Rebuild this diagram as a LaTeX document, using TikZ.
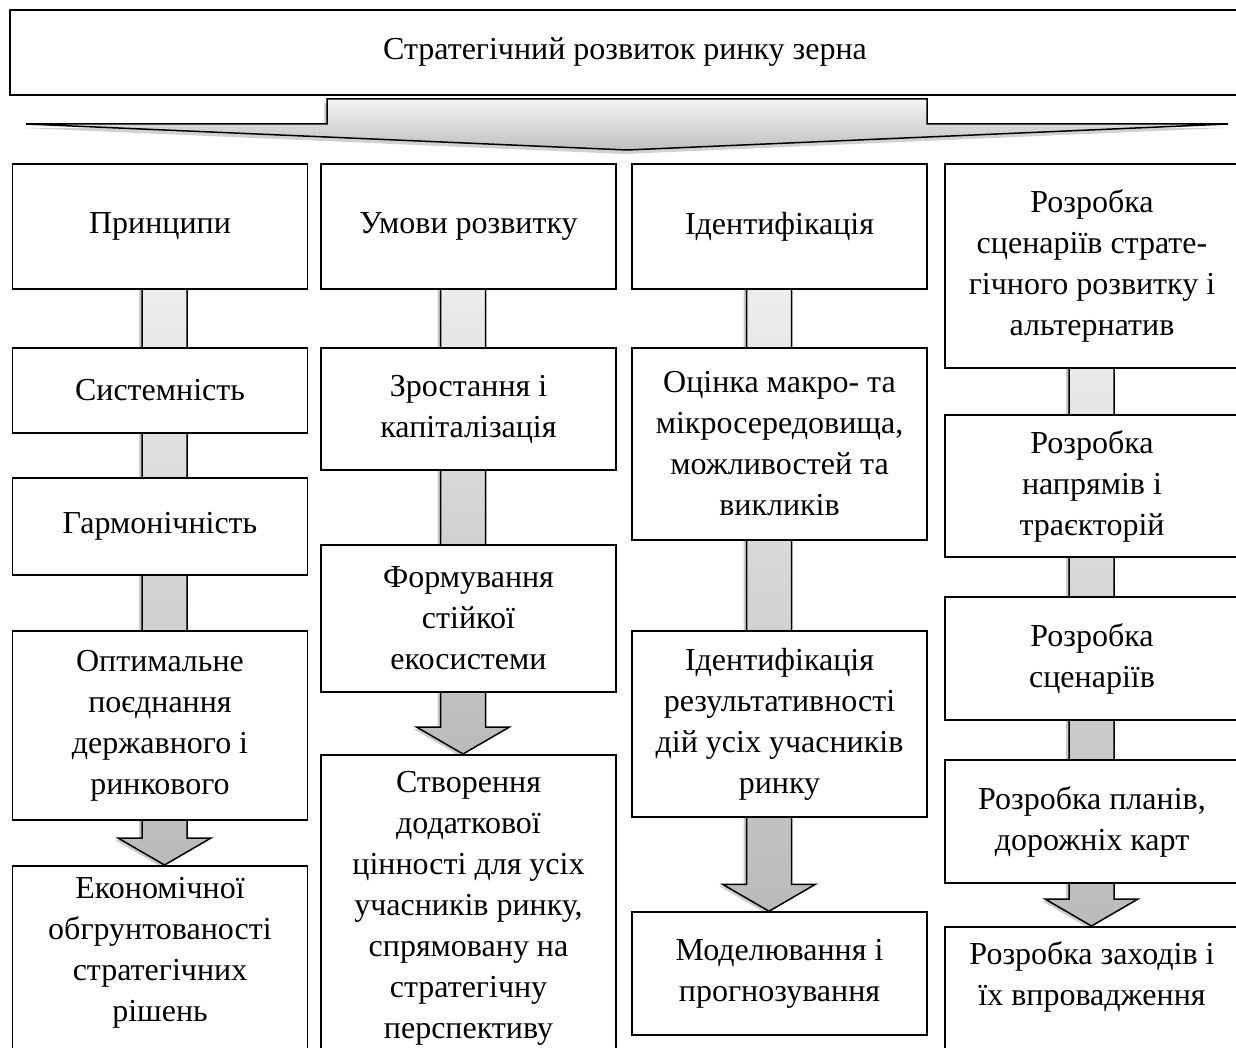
\documentclass[tikz,border=0pt]{standalone}
\usepackage{fontspec}
\setmainfont{Liberation Serif}
\usetikzlibrary{shadows,calc,backgrounds}

\newcommand{\colarrow}[2]{
  \path [colarrow] let \p1=(#1), \p2=(#2) in
    (\x1-22.5pt,\y1) -- (\x1+22.5pt,\y1) -- (\x1+22.5pt,\y2+27pt) -- (\x1+46.5pt,\y2+27pt)
    -- (\x1,\y2) -- (\x1-46.5pt,\y2+27pt) -- (\x1-22.5pt,\y2+27pt) -- cycle;
}

\begin{document}
\begin{tikzpicture}[x=1pt,y=-1pt,
    box/.style={draw,line width=1.5pt,fill=white,align=center,inner sep=4pt,
      font={\fontsize{32}{41}\selectfont}},
    colbox/.style={box,minimum width=295pt},
    cutbox/.style={colbox,anchor=north,inner ysep=12pt,text depth=70pt},
    colarrow/.style={draw,line width=1.5pt,top color=black!5,bottom color=black!27,
      drop shadow={shadow xshift=-3pt,shadow yshift=-2pt,fill=black!45,opacity=.45}},
    bigarrow/.style={draw,line width=1.5pt,top color=black!4,bottom color=black!25,
      drop shadow={shadow xshift=-3pt,shadow yshift=-4pt,fill=black!45,opacity=.4}}]
  \useasboundingbox (0,0) rectangle (1236,1048);

  \node [box,minimum width=1230pt,minimum height=85pt] (t) at (625,52.5) {Стратегічний розвиток ринку зерна};

  \draw [bigarrow] (26,124) -- (327,124) -- (327,99) -- (927,99) -- (927,124) -- (1228,124) -- (627,150) -- cycle;

  % first column
  \node [colbox,minimum height=125pt] (a1) at (160,226.5) {Принципи};
  \node [colbox,minimum height=85pt] (a2) at (160,390.5) {Системність};
  \node [colbox,minimum height=97pt] (a3) at (160,526.5) {Гармонічність};
  \node [colbox,minimum height=189pt] (a4) at (160,725.5) {Оптимальне\\поєднання\\державного і\\ринкового};
  \node [cutbox] (a5) at (160,865) {Економічної\\обгрунтованості\\стратегічних\\рішень};

  % second column
  \node [colbox,minimum height=125pt] (b1) at (468.5,226.5) {Умови розвитку};
  \node [colbox,minimum height=122pt] (b2) at (468.5,409) {Зростання і\\капіталізація};
  \node [colbox,minimum height=147pt] (b3) at (468.5,618.5) {Формування\\стійкої\\екосистеми};
  \node [cutbox,inner ysep=17pt] (b4) at (468.5,754) {Створення\\додаткової\\цінності для усіх\\учасників ринку,\\спрямовану на\\стратегічну\\перспективу};

  % third column
  \node [colbox,minimum height=125pt] (c1) at (779.5,226.5) {Ідентифікація};
  \node [colbox,minimum height=192pt] (c2) at (779.5,444) {Оцінка макро- та\\мікросередовища,\\можливостей та\\викликів};
  \node [colbox,minimum height=186pt] (c3) at (779.5,724) {Ідентифікація\\результативності\\дій усіх учасників\\ринку};
  \node [colbox,minimum height=123pt] (c4) at (779.5,973.5) {Моделювання і\\прогнозування};

  % fourth column
  \node [colbox,minimum width=294pt,minimum height=204pt] (d1) at (1092,266) {Розробка\\сценаріїв страте-\\гічного розвитку і\\альтернатив};
  \node [colbox,minimum width=294pt,minimum height=142pt] (d2) at (1092,486) {Розробка\\напрямів і\\траєкторій};
  \node [colbox,minimum width=294pt,minimum height=123pt] (d3) at (1092,658.5) {Розробка\\сценаріїв};
  \node [colbox,minimum width=294pt,minimum height=123pt] (d4) at (1092,821.5) {Розробка планів,\\дорожніх карт};
  \node [cutbox,minimum width=294pt,inner ysep=15pt] (d5) at (1092,926) {Розробка заходів і\\їх впровадження};

  \coordinate (k1) at (164.5,0);
  \coordinate (k2) at (463,0);
  \coordinate (k3) at (769,0);
  \coordinate (k4) at (1091.5,0);

  \begin{pgfonlayer}{background}
    \colarrow{k1 |- a1.center}{k1 |- a5.north}
    \colarrow{k2 |- b1.center}{k2 |- b4.north}
    \colarrow{k3 |- c1.center}{k3 |- c4.north}
    \colarrow{k4 |- d1.center}{k4 |- d5.north}
  \end{pgfonlayer}
\end{tikzpicture}
\end{document}
